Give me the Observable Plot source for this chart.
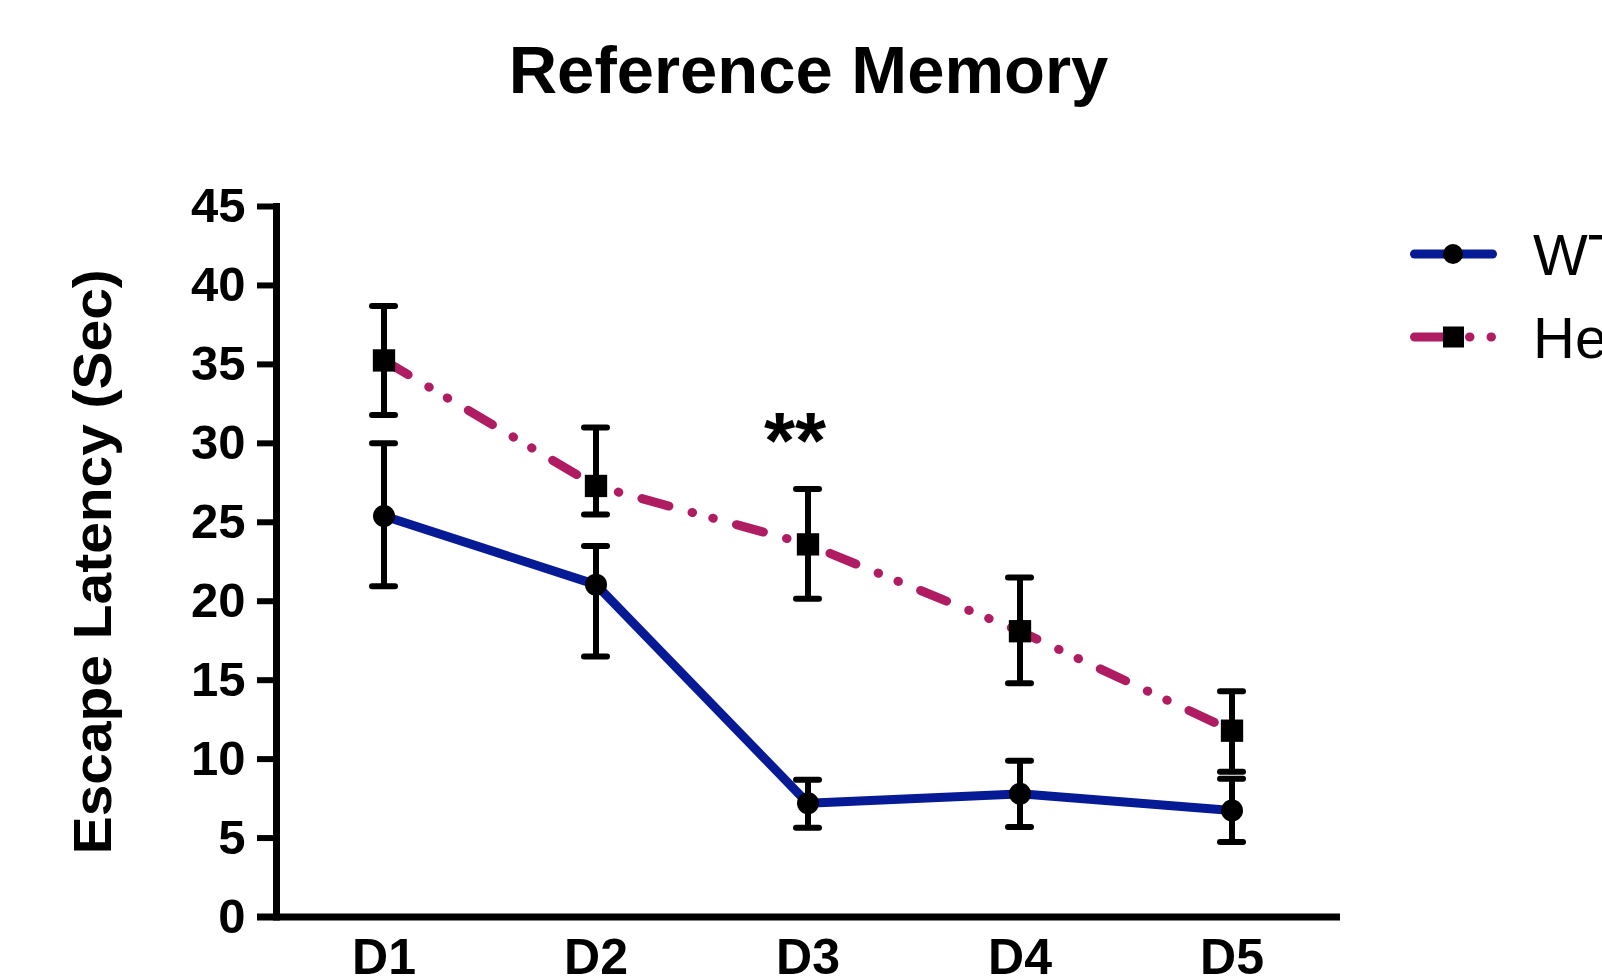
<!DOCTYPE html>
<html>
<head>
<meta charset="utf-8">
<script src="https://cdn.jsdelivr.net/npm/d3@7"></script>
<script src="https://cdn.jsdelivr.net/npm/@observablehq/plot@0.6"></script>
<style>
  html, body { margin: 0; padding: 0; background: #fff; overflow: hidden; }
  #wrap { position: relative; width: 1602px; height: 978px; font-family: "Liberation Sans", Arial, Helvetica, sans-serif; }
  #legend { position: absolute; left: 0; top: 0; }
</style>
</head>
<body>
<div id="wrap"></div>
<script>
// ---- data ----
const days = ["D1", "D2", "D3", "D4", "D5"];
const groups = ["WT", "Het"];
const wtMean = [25.4, 21.05, 7.2, 7.8, 6.75];
const wtLow  = [20.95, 16.5, 5.65, 5.7, 4.75];
const wtHigh = [30.0, 23.5, 8.7, 9.9, 8.75];
const hetMean = [35.25, 27.3, 23.6, 18.1, 11.8];
const hetLow  = [31.8, 25.5, 20.15, 14.8, 9.2];
const hetHigh = [38.7, 31.0, 27.1, 21.5, 14.3];
const yTicks = [0, 5, 10, 15, 20, 25, 30, 35, 40, 45];
const titleText = "Reference Memory";
const yLabelText = "Escape Latency (Sec)";
const sigDay = "D3";
const sigText = "**";

const colors = {WT: "#071a96", Het: "#b01c62"};
const font = "'Liberation Sans', Arial, Helvetica, sans-serif";

const wt = days.map((d, i) => ({day: d, group: "WT", mean: wtMean[i], lo: wtLow[i], hi: wtHigh[i]}));
const het = days.map((d, i) => ({day: d, group: "Het", mean: hetMean[i], lo: hetLow[i], hi: hetHigh[i]}));
const all = wt.concat(het);
const sig = het.filter(d => d.day === sigDay);

const chart = Plot.plot({
  width: 1602,
  height: 978,
  marginTop: 206,
  marginBottom: 61.5,
  marginLeft: 276,
  marginRight: 262,
  style: {fontFamily: font, background: "white", color: "black"},
  x: {type: "band", domain: days, paddingInner: 0.89, paddingOuter: 0.445, label: null},
  y: {domain: [0, 45], label: null},
  marks: [
    Plot.axisY({ticks: yTicks, tickSize: 19, tickPadding: 12, strokeWidth: 6, fontSize: 49, fontWeight: "bold", label: null}),
    Plot.axisX({tickSize: 0, tickPadding: 21, fontSize: 50, fontWeight: "bold", label: null}),
    Plot.frame({anchor: "left", strokeWidth: 7, stroke: "black"}),
    Plot.ruleY([0], {strokeWidth: 7, stroke: "black", insetLeft: -19}),
    Plot.line(wt, {x: "day", y: "mean", stroke: colors.WT, strokeWidth: 9, strokeLinejoin: "round"}),
    Plot.line(het, {x: "day", y: "mean", stroke: colors.Het, strokeWidth: 9, strokeLinecap: "round",
                    strokeDasharray: "28,24,0.5,21,0.5,24"}),
    Plot.ruleX(all, {x: "day", y1: "lo", y2: "hi", stroke: "black", strokeWidth: 6}),
    Plot.tickY(all, {x: "day", y: "hi", stroke: "black", strokeWidth: 6, strokeLinecap: "round"}),
    Plot.tickY(all, {x: "day", y: "lo", stroke: "black", strokeWidth: 6, strokeLinecap: "round"}),
    Plot.dot(wt, {x: "day", y: "mean", r: 11, fill: "black", symbol: "circle"}),
    Plot.dot(het, {x: "day", y: "mean", r: 12.6, fill: "black", symbol: "square"}),
    Plot.text(sig, {x: "day", y: "hi", text: () => sigText, fontSize: 80, fontWeight: "bold", lineAnchor: "bottom", dy: -21, dx: -13, fill: "black"}),
    Plot.text([titleText], {frameAnchor: "top", text: d => d, fontSize: 67, fontWeight: "bold", lineAnchor: "bottom", dy: -114, fill: "black"}),
    Plot.text([yLabelText], {frameAnchor: "left", text: d => d, fontSize: 54, fontWeight: "bold", rotate: -90, dx: -183, lineAnchor: "middle", textAnchor: "middle", fill: "black"})
  ]
});

document.getElementById("wrap").appendChild(chart);

d3.select(chart).selectAll("text")
  .filter(function() { return this.textContent === yLabelText; })
  .attr("textLength", 585)
  .attr("lengthAdjust", "spacingAndGlyphs");

// ---- legend (to the right of the plot) ----
const leg = d3.select("#wrap").append("svg")
  .attr("id", "legend")
  .attr("width", 1602).attr("height", 978)
  .style("pointer-events", "none");

const legendRows = [
  {g: groups[0], y: 254, dash: null, symbol: "circle"},
  {g: groups[1], y: 337, dash: "37,18,0.5,21,0.5,60", symbol: "square"}
];
legendRows.forEach(row => {
  const ln = leg.append("line")
    .attr("x1", 1414.5).attr("x2", row.dash ? 1491.5 : 1492.5)
    .attr("y1", row.y).attr("y2", row.y)
    .attr("stroke", colors[row.g]).attr("stroke-width", 9)
    .attr("stroke-linecap", "round");
  if (row.dash) ln.attr("stroke-dasharray", row.dash);
  if (row.symbol === "circle") {
    leg.append("circle").attr("cx", 1453).attr("cy", row.y).attr("r", 10).attr("fill", "black");
  } else {
    leg.append("rect").attr("x", 1443).attr("y", row.y - 10.5).attr("width", 21).attr("height", 21).attr("fill", "black");
  }
  leg.append("text")
    .attr("x", 1533).attr("y", row.y + 21)
    .attr("font-family", font).attr("font-size", 58)
    .attr("fill", "black")
    .text(row.g);
});
</script>
</body>
</html>
